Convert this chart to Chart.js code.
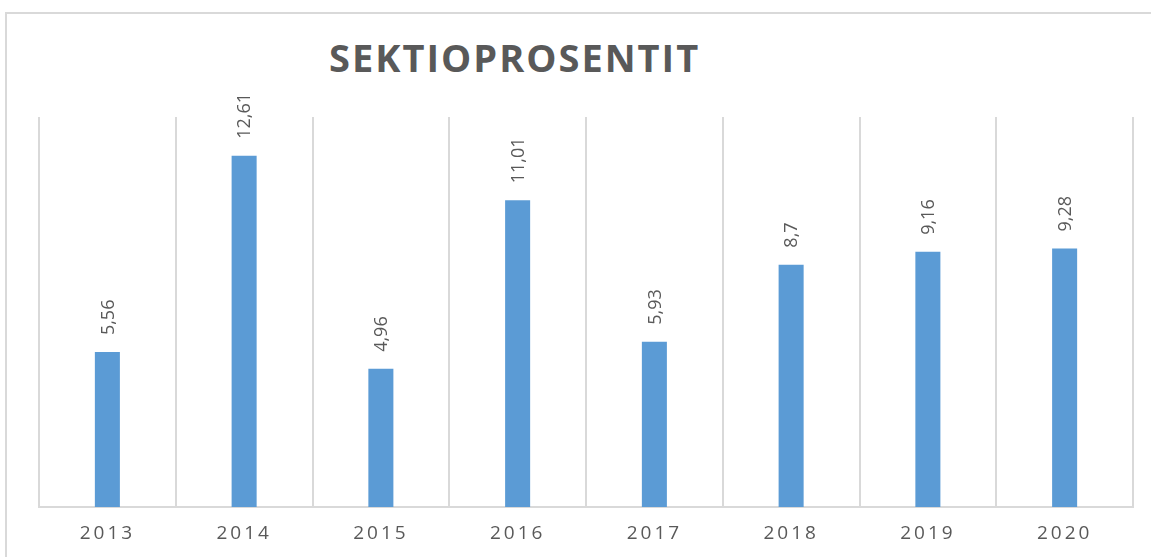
<!DOCTYPE html>
<html>
<head>
<meta charset="utf-8">
<script src="https://cdn.jsdelivr.net/npm/chart.js@4/dist/chart.umd.min.js"></script>
<style>
    html, body { margin: 0; padding: 0; background: #fff; }
    body { width: 1151px; height: 557px; position: relative; overflow: hidden; }
    .frame {
        position: absolute; left: 5px; top: 12px; width: 1200px; height: 600px;
        border-left: 2px solid #d9d9d9; border-top: 2px solid #d9d9d9;
    }
    .title {
        position: absolute; left: 329px; top: 38px;
        font: 700 38px 'Open Sans', sans-serif; line-height: 38px;
        letter-spacing: 2px; color: #595959; white-space: nowrap;
    }
    #wrap { position: absolute; left: 0; top: 0; width: 1151px; height: 557px; }
</style>
</head>
<body>
<div class="frame"></div>
<div class="title">SEKTIOPROSENTIT</div>
<div id="wrap"><canvas id="chart"></canvas></div>
<script>
const years = ['2013', '2014', '2015', '2016', '2017', '2018', '2019', '2020'];
const percents = [5.56, 12.61, 4.96, 11.01, 5.93, 8.7, 9.16, 9.28];
const yMax = 14;

const textGrey = '#595959';
const lineGrey = '#d9d9d9';

// value labels above the bars, rotated like the Excel original
const barLabels = {
    id: 'barLabels',
    afterDatasetsDraw(chart) {
        const ctx = chart.ctx;
        const meta = chart.getDatasetMeta(0);
        ctx.save();
        ctx.letterSpacing = '0px';
        ctx.font = '18px "Open Sans", sans-serif';
        ctx.fillStyle = textGrey;
        ctx.textAlign = 'left';
        ctx.textBaseline = 'middle';
        meta.data.forEach((bar, i) => {
            ctx.save();
            ctx.translate(bar.x + 1, bar.y - 17);
            ctx.rotate(-Math.PI / 2);
            ctx.fillText(String(percents[i]).replace('.', ','), 0, 0);
            ctx.restore();
        });
        ctx.restore();
    }
};

// spaced-out year labels
const spacedTicks = {
    id: 'spacedTicks',
    beforeDraw(chart) {
        chart.ctx.letterSpacing = '3px';
    }
};

new Chart(document.getElementById('chart'), {
    type: 'bar',
    data: {
        labels: years,
        datasets: [{
            data: percents,
            backgroundColor: '#5b9bd5',
            borderWidth: 0,
            barPercentage: 1,
            categoryPercentage: 0.183
        }]
    },
    options: {
        responsive: true,
        maintainAspectRatio: false,
        animation: false,
        layout: { padding: { left: 39, right: 18, top: 117, bottom: 0 } },
        scales: {
            x: {
                grid: { color: lineGrey, lineWidth: 2, offset: true, drawTicks: false },
                border: { color: lineGrey, width: 2 },
                ticks: {
                    color: textGrey,
                    padding: 15,
                    font: { family: 'Open Sans', size: 19 }
                },
                afterFit(scale) { scale.height = 50; }
            },
            y: {
                display: false,
                min: 0,
                max: yMax
            }
        },
        plugins: {
            legend: { display: false },
            tooltip: { enabled: false },
            title: { display: false }
        }
    },
    plugins: [spacedTicks, barLabels]
});
</script>
</body>
</html>
